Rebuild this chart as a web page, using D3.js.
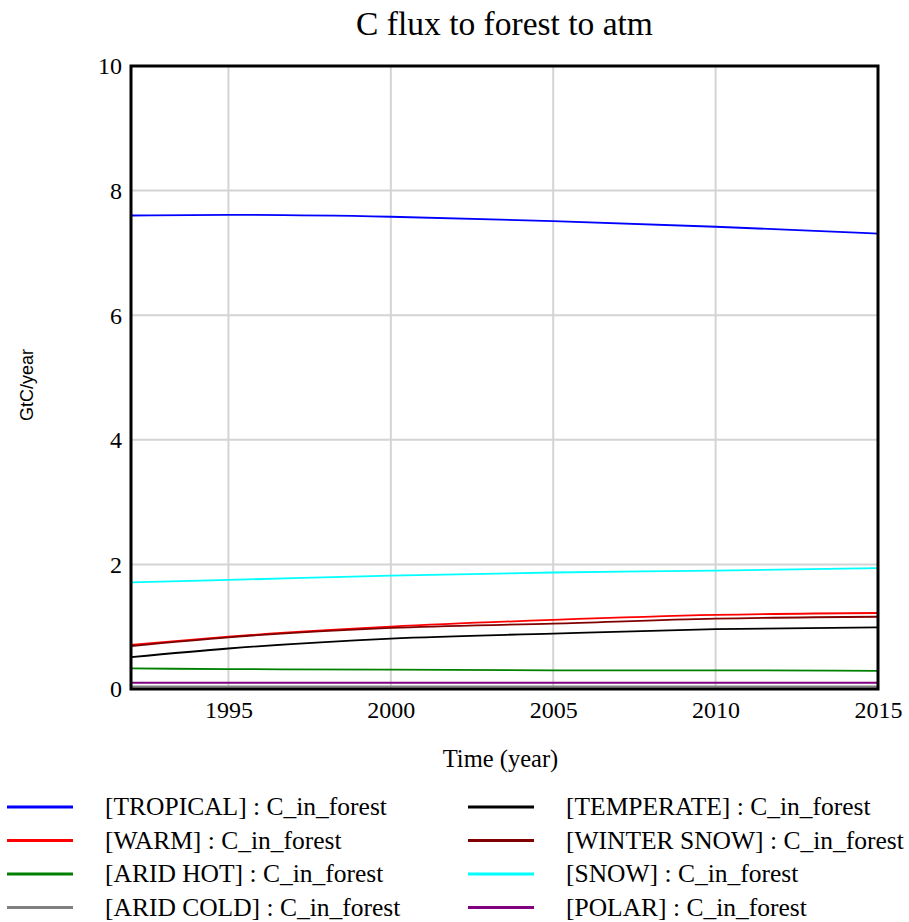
<!DOCTYPE html>
<html>
<head>
<meta charset="utf-8">
<script src="https://cdn.jsdelivr.net/npm/d3@7"></script>
<style>
  body { margin: 0; background: #fff; }
  svg { display: block; }
</style>
</head>
<body>
<svg id="chart" width="909" height="922"></svg>
<script>
// values, at these years
var years = [1992, 1995, 2000, 2005, 2010, 2015];

var tropical   = [7.60, 7.61, 7.58, 7.51, 7.42, 7.31];
var warm       = [0.71, 0.84, 1.00, 1.11, 1.19, 1.22];
var aridHot    = [0.33, 0.32, 0.31, 0.30, 0.30, 0.29];
var aridCold   = [0.04, 0.04, 0.04, 0.04, 0.04, 0.04];
var temperate  = [0.51, 0.65, 0.81, 0.89, 0.96, 0.99];
var winterSnow = [0.69, 0.83, 0.98, 1.05, 1.13, 1.16];
var snow       = [1.71, 1.75, 1.82, 1.87, 1.90, 1.94];
var polar      = [0.10, 0.10, 0.10, 0.10, 0.10, 0.10];

var seriesNames = ["[TROPICAL] : C_in_forest", "[WARM] : C_in_forest", "[ARID HOT] : C_in_forest", "[ARID COLD] : C_in_forest",
                   "[TEMPERATE] : C_in_forest", "[WINTER SNOW] : C_in_forest", "[SNOW] : C_in_forest", "[POLAR] : C_in_forest"];
var seriesValues = [tropical, warm, aridHot, aridCold, temperate, winterSnow, snow, polar];
var colors = ["#0000ff", "#ff0000", "#008000", "#808080", "#000000", "#800000", "#00ffff", "#800080"];

var xTicks = [1995, 2000, 2005, 2010, 2015];
var yTicks = [0, 2, 4, 6, 8, 10];

var svg = d3.select("#chart"),
    margin = { top: 66, right: 31, bottom: 233, left: 131 },
    iwidth = +svg.attr("width") - margin.left - margin.right,
    iheight = +svg.attr("height") - margin.top - margin.bottom,
    g = svg.append("g").attr("transform", "translate(" + margin.left + "," + margin.top + ")");

var serif = "'Liberation Serif', 'Times New Roman', serif";

var x = d3.scaleLinear().domain([1992, 2015]).range([0, iwidth]);
var y = d3.scaleLinear().domain([0, 10]).range([iheight, 0]);

// grid
g.append("g")
  .selectAll("line")
  .data(xTicks.filter(d => d < 2015))
  .enter().append("line")
    .attr("x1", d => x(d)).attr("x2", d => x(d))
    .attr("y1", 0).attr("y2", iheight)
    .attr("stroke", "#d4d4d4").attr("stroke-width", 2);

g.append("g")
  .selectAll("line")
  .data(yTicks.filter(d => d > 0 && d < 10))
  .enter().append("line")
    .attr("x1", 0).attr("x2", iwidth)
    .attr("y1", d => y(d)).attr("y2", d => y(d))
    .attr("stroke", "#d4d4d4").attr("stroke-width", 2);

// series
var line = d3.line()
  .x((d, i) => x(years[i]))
  .y(d => y(d))
  .curve(d3.curveMonotoneX);

g.append("g")
  .selectAll("path")
  .data(seriesValues)
  .enter().append("path")
    .attr("fill", "none")
    .attr("stroke", (d, i) => colors[i])
    .attr("stroke-width", 1.8)
    .attr("d", line);

// frame
g.append("rect")
  .attr("x", 0).attr("y", 0)
  .attr("width", iwidth).attr("height", iheight)
  .attr("fill", "none")
  .attr("stroke", "#000")
  .attr("stroke-width", 3);

// axes (labels only, frame drawn above)
var xAxis = g.append("g")
  .attr("transform", "translate(0," + iheight + ")")
  .call(d3.axisBottom(x).tickValues(xTicks).tickSize(0).tickPadding(0).tickFormat(d3.format("d")));
xAxis.select(".domain").remove();
xAxis.selectAll("text")
  .attr("y", 29).attr("dy", null)
  .attr("font-family", serif).attr("font-size", 24).attr("fill", "#000");

var yAxis = g.append("g")
  .call(d3.axisLeft(y).tickValues(yTicks).tickSize(0).tickPadding(9));
yAxis.select(".domain").remove();
yAxis.selectAll("text")
  .attr("dy", "0.33em")
  .attr("font-family", serif).attr("font-size", 24).attr("fill", "#000");

// titles
svg.append("text")
  .attr("x", margin.left + iwidth / 2)
  .attr("y", 35)
  .attr("text-anchor", "middle")
  .attr("font-family", serif)
  .attr("font-size", 33.5)
  .text("C flux to forest to atm");

svg.append("text")
  .attr("x", margin.left + iwidth / 2 - 4)
  .attr("y", 767)
  .attr("text-anchor", "middle")
  .attr("font-family", serif)
  .attr("font-size", 24.5)
  .text("Time (year)");

svg.append("text")
  .attr("transform", "translate(33,385) rotate(-90)")
  .attr("text-anchor", "middle")
  .attr("font-family", "'Liberation Sans', Arial, sans-serif")
  .attr("font-size", 18)
  .text("GtC/year");

// legend
var legend = svg.append("g")
  .selectAll("g")
  .data(seriesNames)
  .enter().append("g")
    .attr("transform", (d, i) => "translate(" + (i < 4 ? 7 : 468) + "," + (807 + (i % 4) * 33.5) + ")");

legend.append("line")
  .attr("x1", 0).attr("x2", 66)
  .attr("y1", 0).attr("y2", 0)
  .attr("stroke", (d, i) => colors[i])
  .attr("stroke-width", 3);

legend.append("text")
  .attr("x", 98)
  .attr("y", 8)
  .attr("font-family", serif)
  .attr("font-size", 25.5)
  .text(d => d);
</script>
</body>
</html>
